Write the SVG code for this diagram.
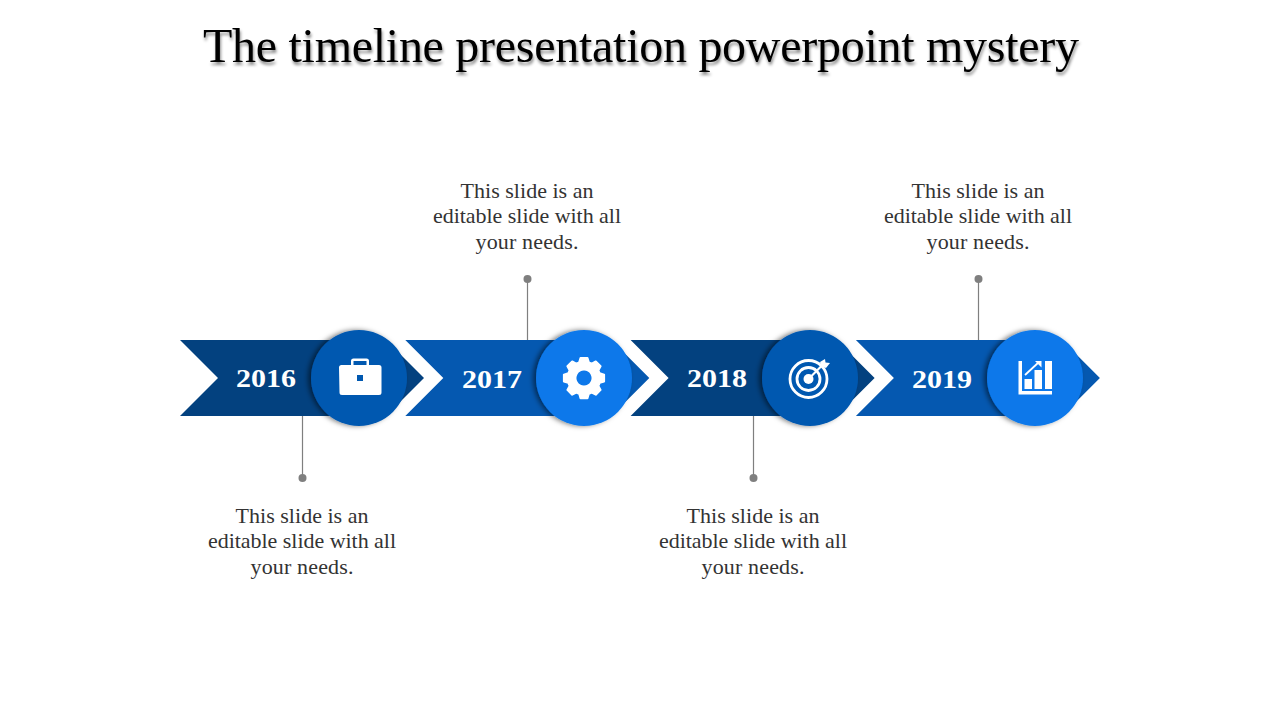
<svg xmlns="http://www.w3.org/2000/svg" width="1280" height="720" viewBox="0 0 1280 720">
<style>
text{font-family:"Liberation Serif",Georgia,serif}
.title{font-size:48px;fill:#000;filter:url(#ts)}
.body{font-size:22px;fill:#333;text-anchor:middle}
.year{font-size:25px;font-weight:bold;fill:#fff;text-anchor:middle}
.dk{fill:#03417f}.md{fill:#0558b0}.lt{fill:#0a78ea}
.lead{stroke:#7f7f7f;stroke-width:1.200;fill:none}
.dot{fill:#7f7f7f}
.ic{fill:#fff}
.ics{fill:none;stroke:#fff}
</style>
<defs>
<filter id="ts" x="-5%" y="-30%" width="110%" height="170%"><feDropShadow dx="1" dy="3" stdDeviation="1.800" flood-color="#000" flood-opacity=".45"/></filter>
<filter id="cs" x="-20%" y="-20%" width="140%" height="140%"><feDropShadow dx="-3" dy="0" stdDeviation="2.500" flood-color="#000" flood-opacity=".5"/></filter>
<polygon id="chev" points="0,0 206,0 244,38 206,76 0,76 38,38"/>
</defs>
<text class="title" x="203" y="62" textLength="876" lengthAdjust="spacing">The timeline presentation powerpoint mystery</text>
<g id="connectors">
<path class="lead" d="M302.500 416V478M527.500 340V279M753.500 416V478M978.500 340V279"/>
<circle class="dot" cx="302.500" cy="478" r="4"/>
<circle class="dot" cx="527.500" cy="279" r="4"/>
<circle class="dot" cx="753.500" cy="478" r="4"/>
<circle class="dot" cx="978.500" cy="279" r="4"/>
</g>
<g id="node-2016">
<use href="#chev" class="dk" x="180" y="340"/>
<circle class="md" cx="359" cy="378" r="48" filter="url(#cs)"/>
<text class="year" x="266" y="387" textLength="60" lengthAdjust="spacingAndGlyphs">2016</text>
<path class="ic" fill-rule="evenodd" d="M339 367.500q0-2.500 2.500-2.500h9.500v-4q0-2.500 2.500-2.500h13q2.500 0 2.500 2.500v4h10q2.500 0 2.500 2.500v25q0 2.500-2.500 2.500h-37q-2.500 0-2.500-2.500zM353.500 365h13v-4h-13zM357 375v6h6v-6z"/>
</g>
<g id="node-2017">
<use href="#chev" class="md" x="405.300" y="340"/>
<circle class="lt" cx="584" cy="378" r="48" filter="url(#cs)"/>
<text class="year" x="492" y="388" textLength="60" lengthAdjust="spacingAndGlyphs">2017</text>
<path class="ic" fill-rule="evenodd" stroke="#fff" stroke-width="2" stroke-linejoin="round" d="M580.500 358h7l1.300 4.400 3 1.300 4-2.200 4.800 4.800-2.200 4 1.300 3 4.400 1.300v7l-4.400 1.300-1.300 3 2.200 4-4.800 4.800-4-2.200-3 1.300-1.300 4.400h-7l-1.300-4.400-3-1.300-4 2.200-4.800-4.800 2.200-4-1.300-3-4.400-1.300v-7l4.400-1.300 1.300-3-2.200-4 4.800-4.800 4 2.200 3-1.300zM584 369.500a8.500 8.500 0 1 0 .01 0z"/>
</g>
<g id="node-2018">
<use href="#chev" class="dk" x="630.600" y="340"/>
<circle class="md" cx="810" cy="378" r="48" filter="url(#cs)"/>
<text class="year" x="717" y="387" textLength="60" lengthAdjust="spacingAndGlyphs">2018</text>
<circle class="ics" cx="808.500" cy="379" r="18.500" stroke-width="2.800"/>
<circle class="ics" cx="808.500" cy="379" r="11.500" stroke-width="2.800"/>
<circle class="ic" cx="808.500" cy="379" r="5"/>
<path class="ics" d="M808.500 379L823 364.500" stroke-width="2.200"/>
<path class="ic" d="M820 362l5-3 .5 3.500 4.500.5-4 5-4.500-1.500z"/>
</g>
<g id="node-2019">
<use href="#chev" class="md" x="855.900" y="340"/>
<circle class="lt" cx="1035" cy="378" r="48" filter="url(#cs)"/>
<text class="year" x="942" y="388" textLength="60" lengthAdjust="spacingAndGlyphs">2019</text>
<path class="ic" d="M1018.500 361h3.500v30h30v3.500h-33.500z"/>
<path class="ic" d="M1024.500 379h7.500v10h-7.500zM1034.500 370h7.500v19h-7.500zM1045 361h7v28h-7z"/>
<path class="ics" d="M1025 375L1039 362" stroke-width="1.800"/>
<path class="ic" d="M1035 361h6.500v6.500z"/>
</g>
<g id="note-2016">
<text class="body"><tspan x="302" y="523" textLength="133">This slide is an</tspan><tspan x="302" y="548" textLength="188">editable slide with all</tspan><tspan x="302" y="574" textLength="103">your needs.</tspan></text>
</g>
<g id="note-2017">
<text class="body"><tspan x="527" y="198" textLength="133">This slide is an</tspan><tspan x="527" y="223" textLength="188">editable slide with all</tspan><tspan x="527" y="249" textLength="103">your needs.</tspan></text>
</g>
<g id="note-2018">
<text class="body"><tspan x="753" y="523" textLength="133">This slide is an</tspan><tspan x="753" y="548" textLength="188">editable slide with all</tspan><tspan x="753" y="574" textLength="103">your needs.</tspan></text>
</g>
<g id="note-2019">
<text class="body"><tspan x="978" y="198" textLength="133">This slide is an</tspan><tspan x="978" y="223" textLength="188">editable slide with all</tspan><tspan x="978" y="249" textLength="103">your needs.</tspan></text>
</g>
</svg>
